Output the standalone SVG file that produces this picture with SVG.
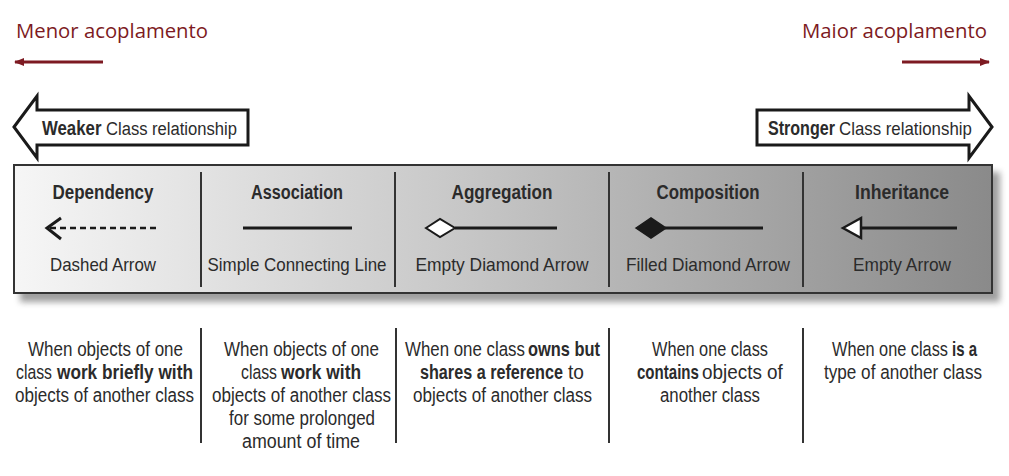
<svg xmlns="http://www.w3.org/2000/svg" width="1009" height="476" viewBox="0 0 1009 476">
<defs>
<style>
.red{fill:#7d1a22;font-family:"Open Sans","Liberation Sans",sans-serif;font-size:20px}
.t{font-family:"Liberation Sans",Arial,sans-serif;fill:#2b2b2b;text-anchor:middle}
.l{text-anchor:start}
.h{font-size:20px;font-weight:bold}
.s{font-size:19px}
.d{font-size:19.5px}
.b{font-weight:bold}
.div{stroke:#333;stroke-width:2}
.ln{stroke:#1a1a1a;stroke-width:3;fill:none}
.big{fill:#fff;stroke:#1a1a1a;stroke-width:3;stroke-linejoin:miter}
</style>
<linearGradient id="g" x1="0" x2="1" y1="0" y2="0">
<stop offset="0" stop-color="#f6f6f6"/>
<stop offset="0.45" stop-color="#c8c8c8"/>
<stop offset="1" stop-color="#8a8a8a"/>
</linearGradient>
<filter id="blur" x="-5%" y="-20%" width="110%" height="140%"><feGaussianBlur stdDeviation="3"/></filter>
<marker id="redh" markerWidth="10" markerHeight="8" refX="9" refY="4" orient="auto" markerUnits="userSpaceOnUse"><path d="M0,0 L10,4 L0,8 Z" fill="#7d1a22"/></marker>
</defs>
<rect width="1009" height="476" fill="#fff"/>

<g id="menor">
<text class="red" x="16" y="38" textLength="192" lengthAdjust="spacingAndGlyphs">Menor acoplamento</text>
</g>
<g id="maior">
<text class="red" x="987" y="38" text-anchor="end" textLength="185" lengthAdjust="spacingAndGlyphs">Maior acoplamento</text>
</g>

<g id="connectors">
<line x1="103" y1="62" x2="15" y2="62" stroke="#7d1a22" stroke-width="3" marker-end="url(#redh)"/>
<line x1="902" y1="62" x2="989" y2="62" stroke="#7d1a22" stroke-width="3" marker-end="url(#redh)"/>
</g>

<g id="weaker">
<path class="big" d="M14,127 L37,96 L37,110 L248,110 L248,145 L37,145 L37,158 Z"/>
<text class="t l h" transform="matrix(0.84 0 0 1 42 135)">Weaker</text>
<text class="t l s" transform="matrix(0.874 0 0 1 106 135)">Class relationship</text>
</g>
<g id="stronger">
<path class="big" d="M992,127 L969,96 L969,110 L757,110 L757,145 L969,145 L969,158 Z"/>
<text class="t l h" transform="matrix(0.804 0 0 1 768 135)">Stronger</text>
<text class="t l s" transform="matrix(0.887 0 0 1 839 135)">Class relationship</text>
</g>

<g id="band">
<rect x="20" y="172" width="980" height="130" fill="#777" opacity="0.7" filter="url(#blur)"/>
<rect x="14" y="165" width="978" height="128" fill="url(#g)" stroke="#333" stroke-width="2"/>
<line class="div" x1="201" y1="172" x2="201" y2="287"/>
<line class="div" x1="395" y1="172" x2="395" y2="287"/>
<line class="div" x1="609" y1="172" x2="609" y2="287"/>
<line class="div" x1="803" y1="172" x2="803" y2="287"/>
</g>

<g id="dependency">
<text class="t h" x="103" y="199" textLength="101" lengthAdjust="spacingAndGlyphs">Dependency</text>
<line x1="50" y1="228" x2="158" y2="228" stroke="#1a1a1a" stroke-width="2.5" stroke-dasharray="6,4"/>
<polyline class="ln" points="61,218 47,228 61,239" stroke-width="2.5"/>
<text class="t s" x="103" y="271" textLength="106" lengthAdjust="spacingAndGlyphs">Dashed Arrow</text>
</g>
<g id="association">
<text class="t h" x="297" y="199" textLength="92" lengthAdjust="spacingAndGlyphs">Association</text>
<line class="ln" x1="243" y1="228" x2="352" y2="228"/>
<text class="t s" x="297" y="271" textLength="179" lengthAdjust="spacingAndGlyphs">Simple Connecting Line</text>
</g>
<g id="aggregation">
<text class="t h" x="502" y="199" textLength="101" lengthAdjust="spacingAndGlyphs">Aggregation</text>
<line class="ln" x1="455" y1="228" x2="557" y2="228"/>
<path d="M426,228 L440,219 L455,228 L440,237 Z" fill="#fff" stroke="#1a1a1a" stroke-width="2"/>
<text class="t s" x="502" y="271" textLength="173" lengthAdjust="spacingAndGlyphs">Empty Diamond Arrow</text>
</g>
<g id="composition">
<text class="t h" x="708" y="199" textLength="103" lengthAdjust="spacingAndGlyphs">Composition</text>
<line class="ln" x1="665" y1="228" x2="763" y2="228"/>
<path d="M636,228 L651,218 L666,228 L651,238 Z" fill="#1a1a1a" stroke="#1a1a1a" stroke-width="1.5"/>
<text class="t s" x="708" y="271" textLength="164" lengthAdjust="spacingAndGlyphs">Filled Diamond Arrow</text>
</g>
<g id="inheritance">
<text class="t h" x="902" y="199" textLength="94" lengthAdjust="spacingAndGlyphs">Inheritance</text>
<line class="ln" x1="861" y1="228" x2="957" y2="228"/>
<path d="M843,228 L861,218 L861,238 Z" fill="#fff" stroke="#1a1a1a" stroke-width="2.5" stroke-linejoin="miter"/>
<text class="t s" x="902" y="271" textLength="98" lengthAdjust="spacingAndGlyphs">Empty Arrow</text>
</g>

<g id="lowerdividers">
<line class="div" x1="201" y1="328" x2="201" y2="443"/>
<line class="div" x1="396" y1="328" x2="396" y2="443"/>
<line class="div" x1="609" y1="328" x2="609" y2="443"/>
<line class="div" x1="803" y1="328" x2="803" y2="443"/>
</g>

<g id="desc1">
<text class="t d" x="105.5" y="356" textLength="155" lengthAdjust="spacingAndGlyphs">When objects of one</text>
<text class="t l d" transform="matrix(0.81 0 0 1 16 379)">class</text>
<text class="t l d b" transform="matrix(0.884 0 0 1 57 379)">work briefly with</text>
<text class="t d" x="104.5" y="402" textLength="179" lengthAdjust="spacingAndGlyphs">objects of another class</text>
</g>
<g id="desc2">
<text class="t d" x="301.5" y="356" textLength="155" lengthAdjust="spacingAndGlyphs">When objects of one</text>
<text class="t l d" transform="matrix(0.81 0 0 1 241 379)">class</text>
<text class="t l d b" transform="matrix(0.89 0 0 1 281 379)">work with</text>
<text class="t d" x="301.5" y="402" textLength="179" lengthAdjust="spacingAndGlyphs">objects of another class</text>
<text class="t d" x="302" y="425" textLength="146" lengthAdjust="spacingAndGlyphs">for some prolonged</text>
<text class="t d" x="301" y="448" textLength="118" lengthAdjust="spacingAndGlyphs">amount of time</text>
</g>
<g id="desc3">
<text class="t l d" transform="matrix(0.865 0 0 1 405 356)">When one class</text>
<text class="t l d b" transform="matrix(0.841 0 0 1 528 356)">owns but</text>
<text class="t l d b" transform="matrix(0.83 0 0 1 420 379)">shares a reference</text>
<text class="t l d" transform="matrix(0.98 0 0 1 568 379)">to</text>
<text class="t d" x="502.5" y="402" textLength="179" lengthAdjust="spacingAndGlyphs">objects of another class</text>
</g>
<g id="desc4">
<text class="t d" x="710" y="356" textLength="116" lengthAdjust="spacingAndGlyphs">When one class</text>
<text class="t l d b" transform="matrix(0.773 0 0 1 637 379)">contains</text>
<text class="t l d" transform="matrix(0.97 0 0 1 702 379)">objects of</text>
<text class="t d" x="710" y="402" textLength="100" lengthAdjust="spacingAndGlyphs">another class</text>
</g>
<g id="desc5">
<text class="t l d" transform="matrix(0.836 0 0 1 832 356)">When one class</text>
<text class="t l d b" transform="matrix(0.77 0 0 1 952 356)">is a</text>
<text class="t d" x="903" y="379" textLength="158" lengthAdjust="spacingAndGlyphs">type of another class</text>
</g>
</svg>
